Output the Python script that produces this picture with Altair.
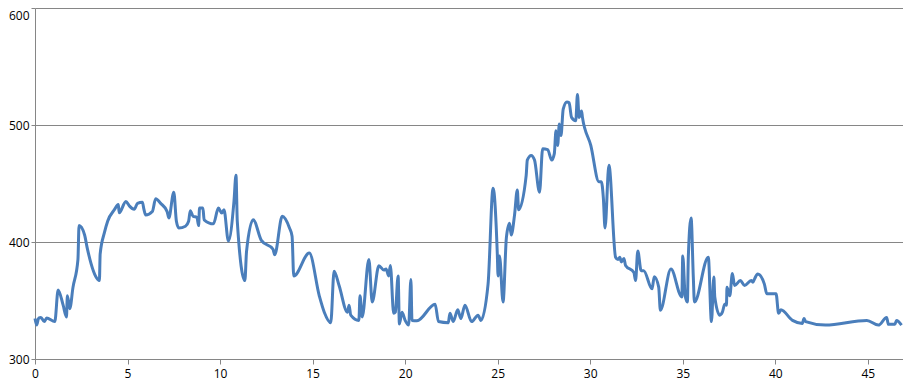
import altair as alt
import pandas as pd

xs = [0.0, 0.09, 0.2, 0.32, 0.5, 0.63, 1.07, 1.25, 1.52, 1.7, 1.75, 1.88, 2.05, 2.32, 2.38, 2.68, 2.82,
      3.39, 3.48, 3.52, 3.75, 3.93, 4.29, 4.5, 4.55, 4.91, 5.09, 5.36, 5.54, 5.8, 5.89, 5.98, 6.34, 6.52,
      6.79, 7.14, 7.23, 7.5, 7.64, 7.77, 8.13, 8.3, 8.39, 8.54, 8.75, 8.84, 8.89, 9.07, 9.14, 9.64, 9.91,
      10.09, 10.21, 10.45, 10.75, 10.86, 10.93, 11.34, 11.43, 11.79, 12.23, 12.86, 12.95, 13.36, 13.75,
      13.89, 13.98, 14.82, 15.36, 15.63, 15.98, 16.16, 16.43, 16.88, 16.97, 17.06, 17.5, 17.56, 17.68,
      18.04, 18.22, 18.58, 18.85, 18.97, 19.11, 19.2, 19.38, 19.47, 19.62, 19.69, 19.83, 20.0, 20.19,
      20.31, 20.37, 20.64, 21.62, 21.8, 22.33, 22.42, 22.6, 22.84, 23.01, 23.23, 23.59, 23.94, 24.09,
      24.48, 24.75, 24.98, 25.02, 25.1, 25.29, 25.47, 25.64, 25.73, 25.91, 26.06, 26.13, 26.54, 26.6,
      26.81, 26.99, 27.26, 27.43, 27.7, 27.92, 28.06, 28.15, 28.24, 28.33, 28.42, 28.54, 28.74, 28.86,
      28.99, 29.22, 29.31, 29.4, 29.53, 29.58, 30.03, 30.47, 30.6, 30.71, 30.8, 31.01, 31.37, 31.5, 31.6,
      31.68, 31.82, 31.91, 32.36, 32.45, 32.57, 32.75, 32.89, 33.34, 33.46, 33.7, 33.79, 34.36, 34.95,
      35.0, 35.13, 35.25, 35.3, 35.45, 35.57, 35.63, 36.38, 36.55, 36.68, 36.73, 37.0, 37.14, 37.27,
      37.36, 37.39, 37.54, 37.68, 37.8, 38.11, 38.34, 38.7, 38.79, 38.88, 39.05, 39.41, 39.54, 40.04,
      40.18, 40.3, 40.93, 41.46, 41.55, 41.64, 42.71, 44.95, 45.57, 46.02, 46.11, 46.46, 46.55, 46.82]

ys = [334.6, 329, 335, 335.5, 332, 335, 332, 359, 346, 336, 354, 343, 361, 385, 414, 406, 395,
      368, 367, 389.6, 408, 418, 427.6, 432, 425, 434.6, 431, 428, 433, 434, 427.6, 423, 426, 437,
      433, 426, 420.6, 442.5, 417.7, 412, 413.5, 417.7, 426.8, 422, 421, 414, 429, 429, 419, 415.5, 429,
      424.8, 427.6, 400.8, 434.6, 457, 417.7, 367, 392, 419, 401.4, 393.8, 389, 422, 412,
      405, 371, 390.5, 354, 340, 331, 375, 362.8, 340, 346, 337.5, 333, 354, 336,
      385, 348.7, 379.7, 376, 377, 371, 380, 339, 340, 371, 330, 340, 333, 329,
      368, 333, 332.7, 346.8, 332, 331, 339, 332, 342, 334.6, 346, 332, 337.5, 333,
      364, 446, 389.6, 371, 388, 348.7, 403.7, 416, 406, 423, 444.5, 427.6, 457, 470,
      474, 470, 442.5, 479.7, 479, 470, 475.5, 495, 482.5, 500.8, 491, 513.5, 519.7, 519,
      506.5, 503.7, 526, 506.5, 512, 506.5, 482.5, 451.5, 451.5, 437.5, 412, 465.6, 387, 385, 387,
      383, 386, 380, 374, 367, 392.4, 375.5, 375.5, 360, 370.4, 361.4, 341.7, 376.9, 353,
      388, 354, 348.7, 387, 420.6, 370, 348.7, 387, 332, 370, 353, 337.5, 340, 346.8,
      346, 361.4, 354, 373, 362.8, 367, 362.8, 367, 365.6, 368.5, 372.7, 364, 355.8, 355.8,
      339, 342, 333, 330.4, 334.6, 332, 329, 333, 329, 335.5, 329.6, 329.6, 333, 329]

x_ticks = [0, 5, 10, 15, 20, 25, 30, 35, 40, 45]
y_ticks = [300, 400, 500, 600]

df = pd.DataFrame({"x": xs, "y": ys})

grid_color = "#868686"
font = "Open Sans"

chart = alt.Chart(df).mark_line(
    color="#4A7EBB", strokeWidth=3, interpolate="monotone"
).encode(
    x=alt.X("x:Q", scale=alt.Scale(domain=[0, 46.9], nice=False, zero=False),
            axis=alt.Axis(values=x_ticks, title=None, grid=False, domainColor=grid_color,
                          tickColor=grid_color, tickSize=5, labelFontSize=12, labelFont=font,
                          labelColor="#000000", labelPadding=4, labelFlush=False)),
    y=alt.Y("y:Q", scale=alt.Scale(domain=[300, 600], nice=False, zero=False),
            axis=alt.Axis(values=y_ticks, title=None, grid=True, gridColor=grid_color,
                          gridOpacity=1, domainColor=grid_color, tickColor=grid_color,
                          tickSize=4, labelFontSize=12, labelFont=font, labelColor="#000000",
                          labelPadding=2, labelFlush=False,
                          labelBaseline={"condition": {"test": "datum.value == 600", "value": "top"},
                                         "value": "middle"},
                          labelOffset={"condition": {"test": "datum.value == 600", "value": 2},
                                       "value": 0})),
).properties(
    width=868, height=351,
    autosize=alt.AutoSizeParams(type="none"),
    padding={"left": 27, "top": 0, "right": 0, "bottom": 26},
).configure_view(stroke=None)

chart.save("out.html", embed_options={"renderer": "svg", "actions": False})
